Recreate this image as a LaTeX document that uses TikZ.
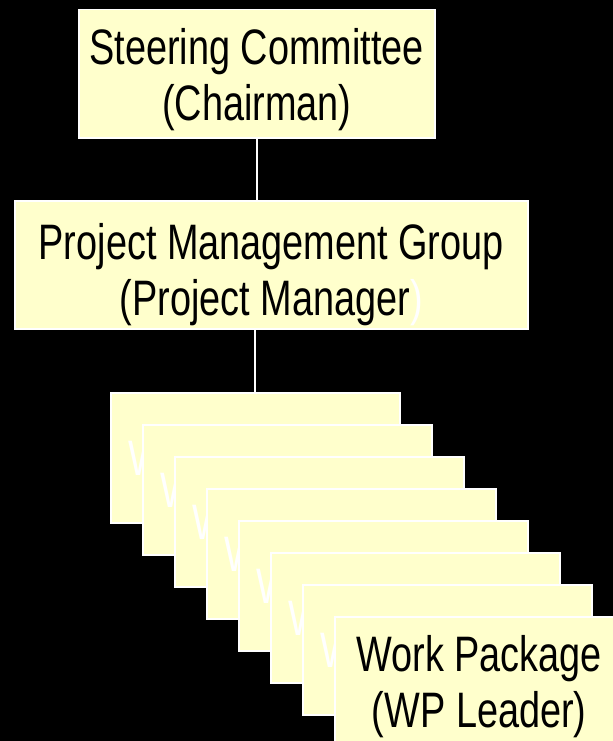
\documentclass[tikz,border=0pt]{standalone}
\usepackage{fontspec}
\setmainfont[FakeStretch=0.76]{Liberation Sans}
\definecolor{boxyellow}{RGB}{255,255,204}
\tikzset{
  orgbox/.style={draw=white, line width=1.5bp, fill=boxyellow, anchor=north west,
    align=center, inner sep=0pt, text height=104.5bp, font=\fontsize{50}{57}\selectfont},
  wpbox/.style={orgbox, minimum width=289bp, minimum height=130bp, text height=102.5bp},
  ghosttext/.style={white, anchor=base west, inner sep=0pt, font=\fontsize{50}{57}\selectfont},
  link/.style={draw=white, line width=2bp}
}
\begin{document}
\begin{tikzpicture}[x=1bp, y=-1bp]
  % Background of the page
  \path[use as bounding box, clip] (0,0) rectangle (613,741);
  \fill[black] (0,0) rectangle (613,741);

  % Steering committee box
  \node[orgbox, minimum width=356bp, minimum height=128bp] (steer) at (78,9)
    {Steering Committee\\(Chairman)};

  % Project management group box
  \node[orgbox, minimum width=513bp, minimum height=128bp, text height=112.5bp] (pmg) at (14,200)
    {Project Management Group\\(Project Manager\textcolor{white}{)}};

  % Stack of work package boxes
  \foreach \i in {0,...,6} {
    \node[wpbox] (wp\i) at (110+32*\i, 392+32*\i) {};
    \node[ghosttext] (wpghost\i) at (128+32*\i, 475+32*\i) {Work Package};
  }
  \node[wpbox] (wp7) at (334,616) {Work Package\\(WP Leader)};

  % Connecting lines
  \draw[link] (steer.south) -- (steer.south |- pmg.north);
  \draw[link] (wp0.north |- pmg.south) -- (wp0.north);
\end{tikzpicture}
\end{document}
